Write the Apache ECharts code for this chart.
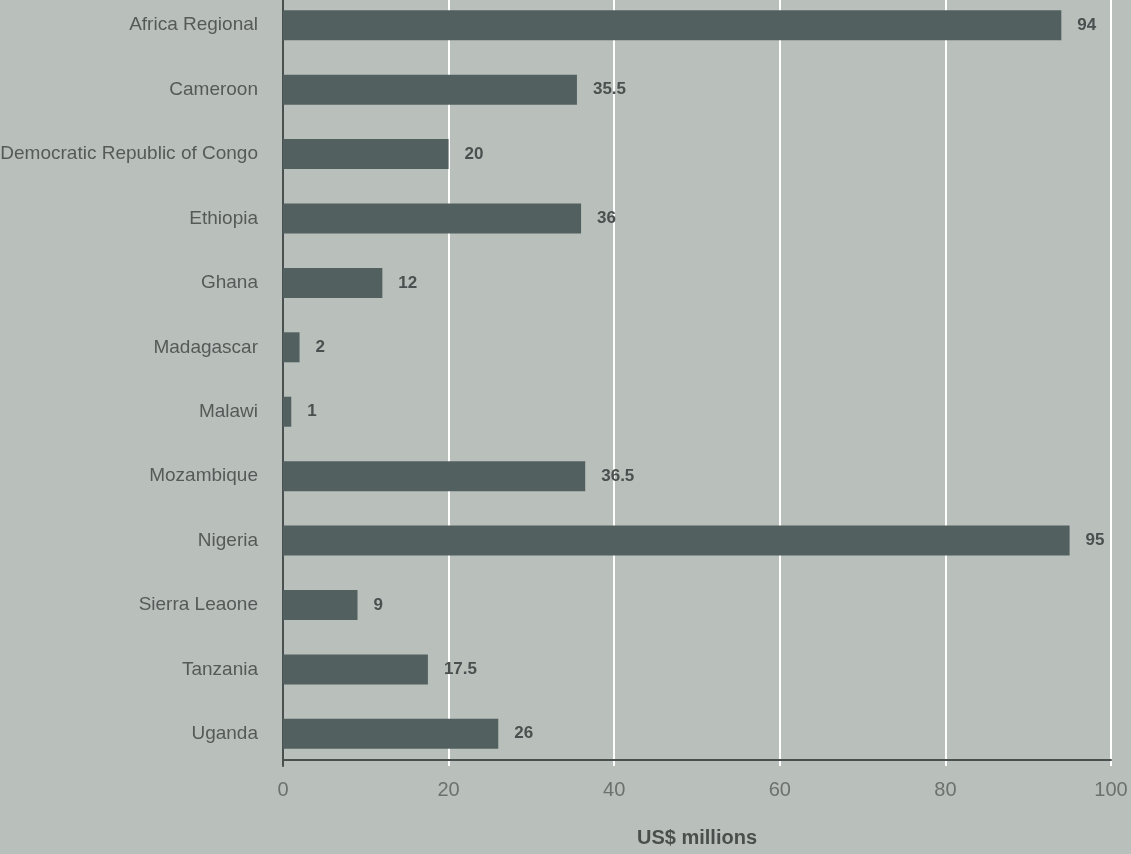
<!DOCTYPE html>
<html><head><meta charset="utf-8">
<script src="https://cdn.jsdelivr.net/npm/echarts@6/dist/echarts.min.js"></script>
<style>html,body{margin:0;padding:0;background:#b9c0bc;}#c{width:1131px;height:854px;}</style>
</head><body><div id="c"></div>
<script>
const categories = ["Africa Regional","Cameroon","Democratic Republic of Congo","Ethiopia","Ghana","Madagascar","Malawi","Mozambique","Nigeria","Sierra Leaone","Tanzania","Uganda"];
const values = [94,35.5,20,36,12,2,1,36.5,95,9,17.5,26];
const axisTitle = "US$ millions";
const font = '"Liberation Sans", Arial, sans-serif';
const chart = echarts.init(document.getElementById('c'));
chart.setOption({
  backgroundColor: '#b9c0bc',
  animation: false,
  grid: {left: 283, right: 20, top: -7, bottom: 88, containLabel: false, outerBoundsMode: 'none'},
  xAxis: {
    type: 'value', min: 0, max: 100, interval: 20, offset: -6,
    name: axisTitle, nameLocation: 'middle', nameGap: 68,
    nameTextStyle: {fontFamily: font, fontSize: 20, color: '#4a4f4e', fontWeight: 'bold'},
    axisLine: {show: true, lineStyle: {color: '#4a4f4f', width: 2}},
    axisTick: {show: false},
    axisLabel: {fontFamily: font, fontSize: 20, color: '#6c7170', margin: 20},
    splitLine: {show: true, lineStyle: {color: '#ffffff', width: 2}}
  },
  yAxis: {
    type: 'category', data: categories, inverse: true,
    axisLine: {show: true, lineStyle: {color: '#4a4f4f', width: 2}},
    axisTick: {show: false},
    axisLabel: {fontFamily: font, fontSize: 19, color: '#555a59', margin: 25}
  },
  series: [{
    type: 'bar', data: values, barWidth: 30,
    itemStyle: {color: '#536060'},
    label: {show: true, position: 'right', distance: 16, fontFamily: font, fontSize: 17, fontWeight: 'bold', color: '#4a4f4f'}
  }]
});
</script></body></html>
